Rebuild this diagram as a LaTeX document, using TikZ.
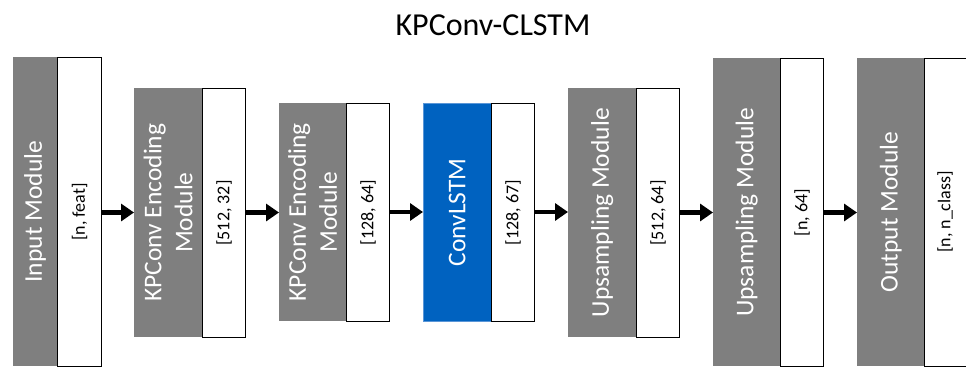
\documentclass[tikz,border=0pt]{standalone}
\usepackage{fontspec}
\setmainfont{Carlito}
\usetikzlibrary{arrows.meta}
\definecolor{modgray}{RGB}{127,127,127}
\definecolor{modblue}{RGB}{0,98,192}
\definecolor{modblueedge}{RGB}{90,150,215}
\tikzset{
  graybox/.style={fill=modgray, draw=none, inner sep=0pt, anchor=north west},
  bluebox/.style={fill=modblue, draw=modblueedge, line width=0.6pt, inner sep=0pt, anchor=north west},
  whitebox/.style={fill=white, draw=black, line width=1.1pt, inner sep=0pt, anchor=north west},
  lbl/.style={rotate=90, text=white, font=\fontsize{25.5}{31}\selectfont, align=center, inner sep=0pt},
  dim/.style={rotate=90, text=black, font=\fontsize{18}{22}\selectfont, inner sep=0pt},
  arr/.style={line width=4.5pt, -{Triangle[length=13pt,width=17pt]}},
}
\begin{document}
\begin{tikzpicture}[x=1pt,y=-1pt]
\useasboundingbox (0,0) rectangle (966,367);
% title
\node[font=\fontsize{32}{38}\selectfont, inner sep=0pt] (title) at (493,25) {KPConv-CLSTM};
% Input module
\node[graybox, minimum width=44pt, minimum height=309pt] (ing) at (13,57) {};
\node[whitebox, minimum width=44pt, minimum height=309pt] (inw) at (57,57) {};
\node[lbl] (inl) at (ing.center) {Input Module};
\node[dim] (ind) at (inw.center) {[n, feat]};
% KPConv 1
\node[graybox, minimum width=68pt, minimum height=249pt] (k1g) at (134,88) {};
\node[whitebox, minimum width=43pt, minimum height=249pt] (k1w) at (202,88) {};
\node[lbl] (k1l) at (k1g.center) {KPConv Encoding\\Module};
\node[dim] (k1d) at (k1w.center) {[512, 32]};
% KPConv 2
\node[graybox, minimum width=67pt, minimum height=218pt] (k2g) at (279,103) {};
\node[whitebox, minimum width=43pt, minimum height=218pt] (k2w) at (346,103) {};
\node[lbl] (k2l) at (k2g.center) {KPConv Encoding\\Module};
\node[dim] (k2d) at (k2w.center) {[128, 64]};
% ConvLSTM
\node[bluebox, minimum width=68pt, minimum height=218pt] (clg) at (423,103) {};
\node[whitebox, minimum width=43pt, minimum height=218pt] (clw) at (491,103) {};
\node[lbl] (cll) at (clg.center) {ConvLSTM};
\node[dim] (cld) at (clw.center) {[128, 67]};
% Upsampling 1
\node[graybox, minimum width=68pt, minimum height=249pt] (u1g) at (568,88) {};
\node[whitebox, minimum width=43pt, minimum height=249pt] (u1w) at (636,88) {};
\node[lbl] (u1l) at (u1g.center) {Upsampling Module};
\node[dim] (u1d) at (u1w.center) {[512, 64]};
% Upsampling 2
\node[graybox, minimum width=67pt, minimum height=308pt] (u2g) at (713,58) {};
\node[whitebox, minimum width=43pt, minimum height=308pt] (u2w) at (780,58) {};
\node[lbl] (u2l) at (u2g.center) {Upsampling Module};
\node[dim] (u2d) at (u2w.center) {[n, 64]};
% Output
\node[graybox, minimum width=67pt, minimum height=308pt] (outg) at (857,58) {};
\node[whitebox, minimum width=50pt, minimum height=308pt] (outw) at (924,58) {};
\node[dim] (outd) at (945,212) {[n, n\_class]};
\node[lbl] (outl) at (outg.center) {Output Module};
% arrows
\draw[arr] (inw.east |- 0,212.5) -- (k1g.west |- 0,212.5);
\draw[arr] (k1w.east |- 0,212.5) -- (k2g.west |- 0,212.5);
\draw[arr] (k2w.east |- 0,212) -- (clg.west |- 0,212);
\draw[arr] (clw.east |- 0,212) -- (u1g.west |- 0,212);
\draw[arr] (u1w.east |- 0,212.5) -- (u2g.west |- 0,212.5);
\draw[arr] (u2w.east |- 0,212.5) -- (outg.west |- 0,212.5);
\end{tikzpicture}
\end{document}
